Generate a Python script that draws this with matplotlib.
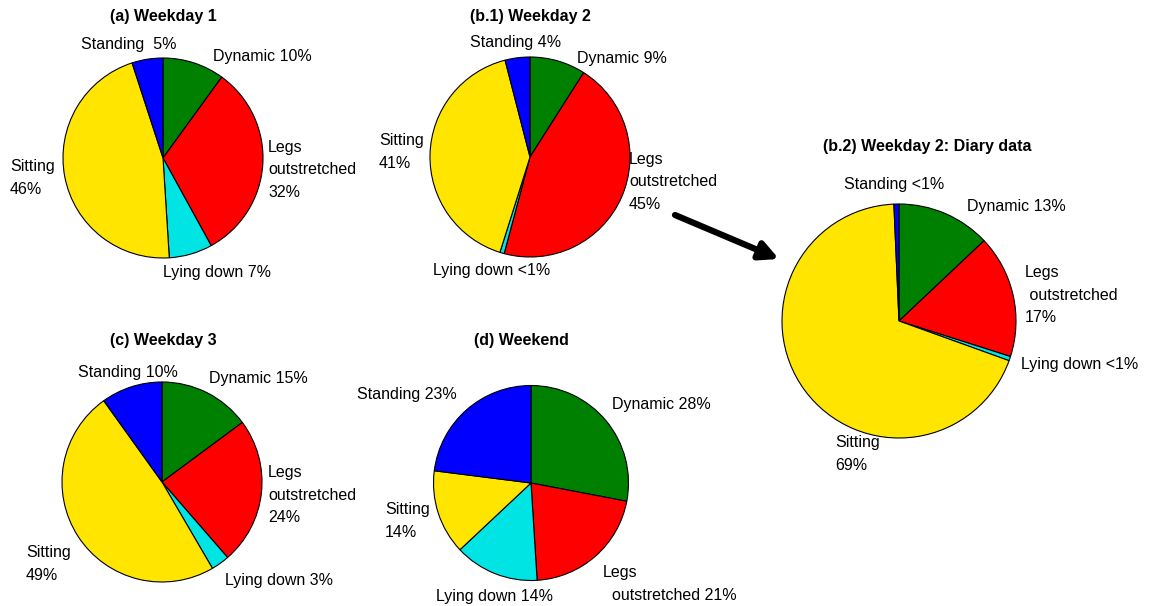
import matplotlib
matplotlib.use("Agg")
import matplotlib.pyplot as plt

plt.rcParams['font.family'] = ['Liberation Sans', 'DejaVu Sans']

# activity categories, clockwise from 12 o'clock
categories = ["Dynamic", "Legs outstretched", "Lying down", "Sitting", "Standing"]
colors = ["#008000", "#ff0000", "#00e4e4", "#ffe500", "#0000ff"]

# percentage of time per posture
weekday1 = [10, 32, 7, 46, 5]
weekday2 = [9, 45, 0.7, 41, 4]
diary = [13, 17, 0.6, 69, 0.7]
weekday3 = [15, 24, 3, 49, 10]
weekend = [28, 21, 14, 14, 23]

titles = ["(a) Weekday 1", "(b.1) Weekday 2", "(b.2) Weekday 2: Diary data",
          "(c) Weekday 3", "(d) Weekend"]


def pct(v):
    return "<1%" if v < 1 else "%d%%" % round(v)


fig = plt.figure(figsize=(11.53, 6.06), dpi=100)
ax = fig.add_axes([0, 0, 1, 1])

H = 606
FS = 11.5

# (values, centre x, centre y from top, radius, title pos, label layout)
# label layout: dx, dy from centre, horizontal alignment, label template
pies = [
    (weekday1, 163, 158, 100, (163, 17), [
        (50, 102, "left", "Dynamic {}"),
        (105, -12, "left", "Legs\noutstretched\n{}"),
        (54, -114, "center", "Lying down {}"),
        (-153, -20, "left", "Sitting\n{}"),
        (-34, 114, "center", "Standing  {}"),
    ]),
    (weekday2, 530, 157, 100, (530, 17), [
        (47, 98, "left", "Dynamic {}"),
        (99, -25, "left", "Legs\noutstretched\n{}"),
        (-38, -114, "center", "Lying down {}"),
        (-151, 5, "left", "Sitting\n{}"),
        (-14, 114, "center", "Standing {}"),
    ]),
    (diary, 899, 321, 117, (927, 146), [
        (68, 114, "left", "Dynamic {}"),
        (126, 26, "left", "Legs\n outstretched\n{}"),
        (122, -43, "left", "Lying down {}"),
        (-64, -133, "left", "Sitting\n{}"),
        (-5, 137, "center", "Standing {}"),
    ]),
    (weekday3, 162, 482, 100, (163, 340), [
        (47, 104, "left", "Dynamic {}"),
        (106, -13, "left", "Legs\noutstretched\n{}"),
        (63, -98, "left", "Lying down {}"),
        (-136, -82, "left", "Sitting\n{}"),
        (-34, 110, "center", "Standing {}"),
    ]),
    (weekend, 531, 483, 97.5, (521, 340), [
        (81, 78, "left", "Dynamic {}"),
        (72, -101, "left", "Legs\n  outstretched {}"),
        (-36, -113, "center", "Lying down {}"),
        (-146, -38, "left", "Sitting\n{}"),
        (-124, 88, "center", "Standing {}"),
    ]),
]

for (vals, cx, cy, r, tpos, layout), title in zip(pies, titles):
    ax.pie(vals, colors=colors, startangle=90, counterclock=False,
           center=(cx, H - cy), radius=r, normalize=True,
           wedgeprops=dict(edgecolor="black", linewidth=0.8), frame=True)
    ax.text(tpos[0], H - tpos[1], title, ha="center", va="center",
            fontsize=FS, fontweight="bold")
    for v, (dx, dy, ha, tmpl) in zip(vals, layout):
        ax.text(cx + dx, H - cy + dy, tmpl.format(pct(v)), ha=ha, va="center",
                fontsize=FS, linespacing=1.6, multialignment="left")

ax.set_xlim(0, 1153)
ax.set_ylim(0, 606)
ax.set_aspect("equal")
ax.axis("off")

# arrow from weekday 2 to its diary counterpart
ax.annotate("", xy=(779, H - 259), xytext=(675, H - 215),
            arrowprops=dict(arrowstyle="-|>,head_length=1.1,head_width=0.55",
                            color="black", lw=4.5, shrinkA=0, shrinkB=0))

fig.savefig("out.png", dpi=100)
